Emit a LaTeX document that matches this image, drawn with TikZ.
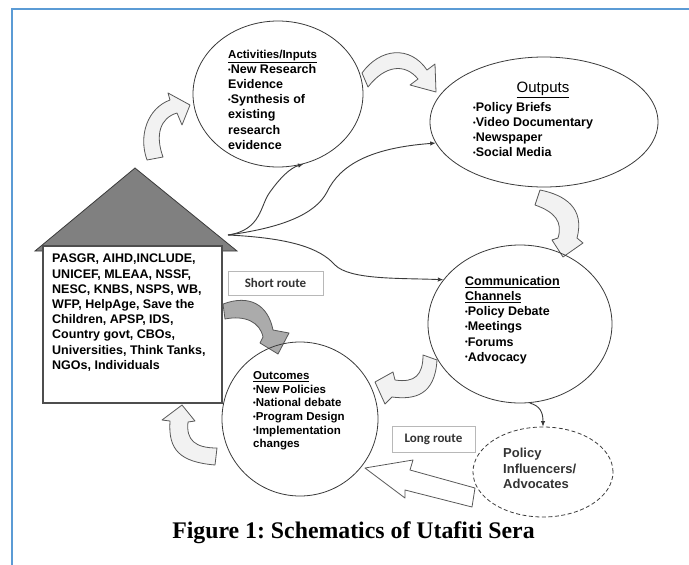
\documentclass[tikz,border=0pt]{standalone}
\usepackage{fontspec}
\setmainfont{Liberation Sans}
\newfontfamily\calfont{Carlito}
\newfontfamily\serfont{Liberation Serif}
\usetikzlibrary{shapes.geometric,arrows.meta}
\definecolor{frameblue}{HTML}{5B9BD5}
\definecolor{ink}{HTML}{3A3A3A}
\definecolor{lightfill}{HTML}{F2F2F2}
\definecolor{midfill}{HTML}{ABABAB}
\definecolor{roofgray}{HTML}{808080}
\newcommand\bul{{\fontsize{7.5}{7.5}\selectfont\raisebox{0.2em}{•}}}
\frenchspacing
\begin{document}
\begin{tikzpicture}[x=1pt,y=-1pt,
 bubble/.style={draw=ink,line width=0.8pt,ellipse,inner sep=0pt},
 txt/.style={inner sep=0pt,anchor=north west,align=left,text=black},
 fat/.style={draw=ink!85,line width=0.8pt,fill=lightfill,line join=round},
 conn/.style={draw=ink,line width=0.9pt,-{Latex[length=5.5pt,width=4.5pt]}},
 routebox/.style={draw=black!28,line width=0.7pt,fill=white,inner sep=0pt,
   font=\calfont\bfseries\fontsize{13}{15}\selectfont,text=black!80}
]
\useasboundingbox (0,0) rectangle (689,565);
% page frame
\draw[frameblue,line width=2pt] (689,9) -- (12,9) -- (12,565);

% house
\filldraw[fill=roofgray,draw=ink,line width=0.8pt,line join=miter] (35,251) -- (135,168) -- (237,251) -- cycle;
\node[draw=ink!90,line width=1.1pt,fill=white,minimum width=179pt,minimum height=157pt,inner sep=0pt] (house) at (132.5,324.5) {};
\node[txt,font=\bfseries\fontsize{12.5}{15.2}\selectfont] (housetxt) at (52,254)
 {PASGR, AIHD,INCLUDE,\\ UNICEF,  MLEAA, NSSF,\\ NESC, KNBS, NSPS, WB,\\ WFP, HelpAge, Save the\\ Children, APSP, IDS,\\ Country govt, CBOs,\\ Universities, Think Tanks,\\ NGOs, Individuals};

% block arrows
\path[fat] (147,160) .. controls (138,135) and (148,108) .. (170,100) -- (168,93) -- (190,105) -- (182,125) -- (177,113) .. controls (160,118) and (155,135) .. (163,157) -- cycle;
\path[fat] (362,73) .. controls (380,48) and (410,45) .. (427,70) -- (435,64) -- (436,92) -- (410,85) -- (418,79) .. controls (405,63) and (385,65) .. (368,87) -- cycle;
\path[fat] (535,205) -- (540,190) .. controls (565,195) and (585,208) .. (577,238) -- (583,243) -- (563,257) -- (552,240) -- (558,238) .. controls (563,222) and (555,212) .. (535,205) -- cycle;
\path[fat] (423,355) -- (437,360) .. controls (435,395) and (415,400) .. (392,397) -- (385,404) -- (375,382) -- (393,372) -- (395,380) .. controls (415,383) and (423,375) .. (423,355) -- cycle;
\path[fat] (217,448) -- (215,465) .. controls (180,462) and (168,450) .. (170,421) -- (162,420) -- (182,405) -- (195,421) -- (188,422) .. controls (186,440) and (195,448) .. (217,448) -- cycle;
\path[fat,fill=midfill] (223,304) .. controls (250,294) and (268,305) .. (273,330) -- (289,333) -- (278,354) -- (260,343) -- (263,337) .. controls (260,322) and (245,315) .. (225,319) -- cycle;
\path[fat,fill=white] (365,468) -- (413,460) -- (410,470) -- (475,488) -- (472,507) -- (405,490) -- (405,498) -- cycle;

% bubbles
\node[bubble,minimum width=170pt,minimum height=146pt] (act) at (278,94) {};
\node[bubble,minimum width=228pt,minimum height=130pt] (out) at (544,122) {};
\node[bubble,minimum width=184pt,minimum height=158pt] (comm) at (520,324) {};
\node[bubble,minimum width=156pt,minimum height=154pt] (outc) at (300,419) {};
\node[bubble,dashed,dash pattern=on 4pt off 2.5pt,minimum width=140pt,minimum height=90pt] (pol) at (543,472) {};

% texts
\node[txt,font=\bfseries\fontsize{12.5}{15.1}\selectfont] (acttxt) at (228,50)
 {{\fontsize{11.5}{15.1}\selectfont\underline{Activities/Inputs}}\\ \bul New Research\\ Evidence\\ \bul Synthesis of\\ existing\\ research\\ evidence};
\node[inner sep=0pt,font=\fontsize{15}{17}\selectfont] (outhead) at (543,90) {\underline{Outputs}};
\node[txt,font=\bfseries\fontsize{12.5}{15}\selectfont] (outtxt) at (473,102.5)
 {\bul Policy Briefs\\ \bul Video Documentary\\ \bul Newspaper\\ \bul Social Media};
\node[txt,font=\bfseries\fontsize{12.5}{15.2}\selectfont] (commtxt) at (465,276)
 {\underline{Communication}\\ \underline{Channels}\\ \bul Policy Debate\\ \bul Meetings\\ \bul Forums\\ \bul Advocacy};
\node[txt,font=\bfseries\fontsize{11.5}{13.6}\selectfont] (outctxt) at (253,371.5)
 {\underline{Outcomes}\\ \bul New Policies\\ \bul National debate\\ \bul Program Design\\ \bul Implementation\\ changes};
\node[txt,font=\bfseries\fontsize{13}{15.5}\selectfont,text=black!80] (poltxt) at (503,448)
 {Policy\\ Influencers/\\ Advocates};

% route labels
\node[routebox,minimum width=95pt,minimum height=24pt] (short) at (275.5,283) {Short route};
\node[routebox,minimum width=83pt,minimum height=26pt] (long) at (433.5,439) {Long route};

% connectors
\coordinate (fan) at (228,235);
\draw[conn] (fan) .. controls (262,230) and (260,205) .. (270,192) .. controls (280,178) and (290,168) .. (act.290);
\draw[conn] (fan) .. controls (280,228) and (315,215) .. (327,192) .. controls (340,165) and (370,148) .. (out.191);
\draw[conn] (fan) .. controls (290,238) and (320,248) .. (335,265) .. controls (350,280) and (400,278) .. (comm.150);
\draw[conn] (comm.277) .. controls (540,406) and (543,412) .. (pol.north);

% caption
\node[inner sep=0pt,font=\serfont\bfseries\fontsize{23.8}{26}\selectfont] (cap) at (353.5,533) {Figure 1: Schematics of Utafiti Sera};
\end{tikzpicture}
\end{document}
